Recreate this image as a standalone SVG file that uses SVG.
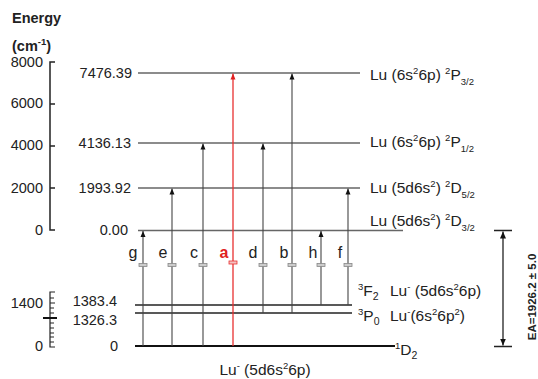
<svg xmlns="http://www.w3.org/2000/svg" width="538" height="379" viewBox="0 0 538 379">
<style>
text{font-family:"Liberation Sans",Arial,sans-serif;fill:#222}
.t{font-size:14.5px}
.lab{font-size:15.5px}
.s{font-size:9.5px}
.ax{stroke:#222;stroke-width:1.5;fill:none}
.lvl{stroke:#666;stroke-width:1.5}
.lo{stroke:#222;stroke-width:1.6}
.arr{stroke:#444;stroke-width:1.1;marker-end:url(#ah)}
.brk{fill:#ccc;stroke:#888;stroke-width:0.8}
.let{font-size:16px;text-anchor:middle}
</style>
<defs>
<marker id="ah" markerWidth="6" markerHeight="6" refX="6" refY="3" orient="auto" markerUnits="userSpaceOnUse"><path d="M0,0.5 L6,3 L0,5.5 z" fill="#111"/></marker>
<marker id="ahr" markerWidth="6" markerHeight="6" refX="6" refY="3" orient="auto" markerUnits="userSpaceOnUse"><path d="M0,0.5 L6,3 L0,5.5 z" fill="#e02020"/></marker>
<marker id="ahb" markerWidth="7" markerHeight="7" refX="7" refY="3.5" orient="auto-start-reverse" markerUnits="userSpaceOnUse"><path d="M0,0.5 L7,3.5 L0,6.5 z" fill="#111"/></marker>
</defs>

<g id="axis-upper">
<text x="12" y="23" style="font-size:14.5px;font-weight:bold">Energy</text>
<text x="12" y="51" style="font-size:14.5px;font-weight:bold">(cm<tspan dy="-6" class="s">-1</tspan><tspan dy="6">)</tspan></text>
<path class="ax" d="M55,62 H50 V230 H55 M50,104 H55 M50,146 H55 M50,188 H55"/>
<text class="t" x="43" y="67" text-anchor="end">8000</text>
<text class="t" x="43" y="108" text-anchor="end">6000</text>
<text class="t" x="43" y="150" text-anchor="end">4000</text>
<text class="t" x="43" y="193" text-anchor="end">2000</text>
<text class="t" x="43" y="235" text-anchor="end">0</text>
</g>

<g id="axis-lower">
<path class="ax" style="stroke-width:1.2" d="M55,292 H50 V347 H55 M50,298 H54 M50,303 H55 M50,308 H54 M50,313 H54 M50,323 H54 M50,328 H54 M50,333 H54 M50,337 H54 M50,342 H54"/>
<path d="M43,318 H57" stroke="#111" stroke-width="2"/>
<text class="t" x="43" y="308" text-anchor="end">1400</text>
<text class="t" x="43" y="351" text-anchor="end">0</text>
</g>

<g id="level-P32">
<line class="lvl" x1="138" y1="73" x2="360" y2="73"/>
<text class="t" x="132" y="78" text-anchor="end">7476.39</text>
<text class="lab" x="370" y="80">Lu (6s<tspan dy="-6" class="s">2</tspan><tspan dy="6">6p) </tspan><tspan dy="-6" class="s">2</tspan><tspan dy="6">P</tspan><tspan dy="5" class="s">3/2</tspan></text>
</g>
<g id="level-P12">
<line class="lvl" x1="138" y1="143" x2="360" y2="143"/>
<text class="t" x="131" y="148" text-anchor="end">4136.13</text>
<text class="lab" x="370" y="147">Lu (6s<tspan dy="-6" class="s">2</tspan><tspan dy="6">6p) </tspan><tspan dy="-6" class="s">2</tspan><tspan dy="6">P</tspan><tspan dy="5" class="s">1/2</tspan></text>
</g>
<g id="level-D52">
<line class="lvl" x1="138" y1="188" x2="360" y2="188"/>
<text class="t" x="131" y="193" text-anchor="end">1993.92</text>
<text class="lab" x="370" y="193">Lu (5d6s<tspan dy="-6" class="s">2</tspan><tspan dy="6">) </tspan><tspan dy="-6" class="s">2</tspan><tspan dy="6">D</tspan><tspan dy="5" class="s">5/2</tspan></text>
</g>
<g id="level-D32">
<line class="lvl" x1="138" y1="230.5" x2="403" y2="230.5"/>
<text class="t" x="128" y="235" text-anchor="end">0.00</text>
<text class="lab" x="370" y="226">Lu (5d6s<tspan dy="-6" class="s">2</tspan><tspan dy="6">) </tspan><tspan dy="-6" class="s">2</tspan><tspan dy="6">D</tspan><tspan dy="5" class="s">3/2</tspan></text>
</g>
<g id="level-3F2">
<line class="lo" x1="135" y1="305" x2="352" y2="305"/>
<text class="t" x="117" y="306" text-anchor="end">1383.4</text>
<text class="lab" x="358" y="296"><tspan dy="-6" class="s">3</tspan><tspan dy="6">F</tspan><tspan dy="4" style="font-size:10.5px">2</tspan><tspan x="390" dy="-4">Lu</tspan><tspan dy="-6" class="s">-</tspan><tspan dy="6"> (5d6s</tspan><tspan dy="-6" class="s">2</tspan><tspan dy="6">6p)</tspan></text>
</g>
<g id="level-3P0">
<line class="lo" x1="135" y1="313" x2="352" y2="313"/>
<text class="t" x="117" y="325" text-anchor="end">1326.3</text>
<text class="lab" x="358" y="321"><tspan dy="-6" class="s">3</tspan><tspan dy="6">P</tspan><tspan dy="4" style="font-size:10.5px">0</tspan><tspan x="390" dy="-4">Lu</tspan><tspan dy="-6" class="s">-</tspan><tspan dy="6">(6s</tspan><tspan dy="-6" class="s">2</tspan><tspan dy="6">6p</tspan><tspan dy="-6" class="s">2</tspan><tspan dy="6">)</tspan></text>
</g>
<g id="level-1D2">
<line x1="135" y1="346" x2="395" y2="346" stroke="#111" stroke-width="2"/>
<text class="t" x="118" y="351" text-anchor="end">0</text>
<text class="lab" x="395" y="355"><tspan dy="-6" class="s">1</tspan><tspan dy="6">D</tspan><tspan dy="4" style="font-size:10.5px">2</tspan></text>
<text class="lab" x="265" y="375" text-anchor="middle">Lu<tspan dy="-6" class="s">-</tspan><tspan dy="6"> (5d6s</tspan><tspan dy="-6" class="s">2</tspan><tspan dy="6">6p)</tspan></text>
</g>

<g id="connectors">
<line class="arr" x1="143" y1="346" x2="143" y2="231"/>
<line class="arr" x1="172" y1="346" x2="172" y2="188.5"/>
<line class="arr" x1="203" y1="346" x2="203" y2="143.5"/>
<line x1="233" y1="346" x2="233" y2="73.5" stroke="#e83030" stroke-width="1.3" marker-end="url(#ahr)"/>
<line class="arr" x1="263" y1="313" x2="263" y2="143.5"/>
<line class="arr" x1="292" y1="313" x2="292" y2="73.5"/>
<line class="arr" x1="321" y1="305" x2="321" y2="231"/>
<line class="arr" x1="348" y1="305" x2="348" y2="188.5"/>
<rect class="brk" x="139" y="263.5" width="8" height="3"/>
<rect class="brk" x="168" y="263.5" width="8" height="3"/>
<rect class="brk" x="199" y="263.5" width="8" height="3"/>
<rect x="229" y="261" width="8" height="3" fill="#f4c0c0" stroke="#e83030" stroke-width="0.8"/>
<rect class="brk" x="259" y="263.5" width="8" height="3"/>
<rect class="brk" x="288" y="263.5" width="8" height="3"/>
<rect class="brk" x="317" y="263.5" width="8" height="3"/>
<rect class="brk" x="344" y="263.5" width="8" height="3"/>
<text class="let" x="133" y="258">g</text>
<text class="let" x="163" y="258">e</text>
<text class="let" x="194" y="258">c</text>
<text class="let" x="224" y="258" style="fill:#e02020;font-weight:bold">a</text>
<text class="let" x="253" y="258">d</text>
<text class="let" x="284" y="258">b</text>
<text class="let" x="313" y="258">h</text>
<text class="let" x="340" y="258">f</text>
</g>

<g id="ea">
<path d="M494,230.5 H512 M494,346.5 H512" stroke="#222" stroke-width="1.5"/>
<line x1="503" y1="231.5" x2="503" y2="345.5" stroke="#222" stroke-width="1.3" marker-start="url(#ahb)" marker-end="url(#ahb)"/>
<text transform="translate(536,297) rotate(-90)" text-anchor="middle" style="font-size:11.5px;font-weight:bold">EA=1926.2 ± 5.0</text>
</g>
</svg>
